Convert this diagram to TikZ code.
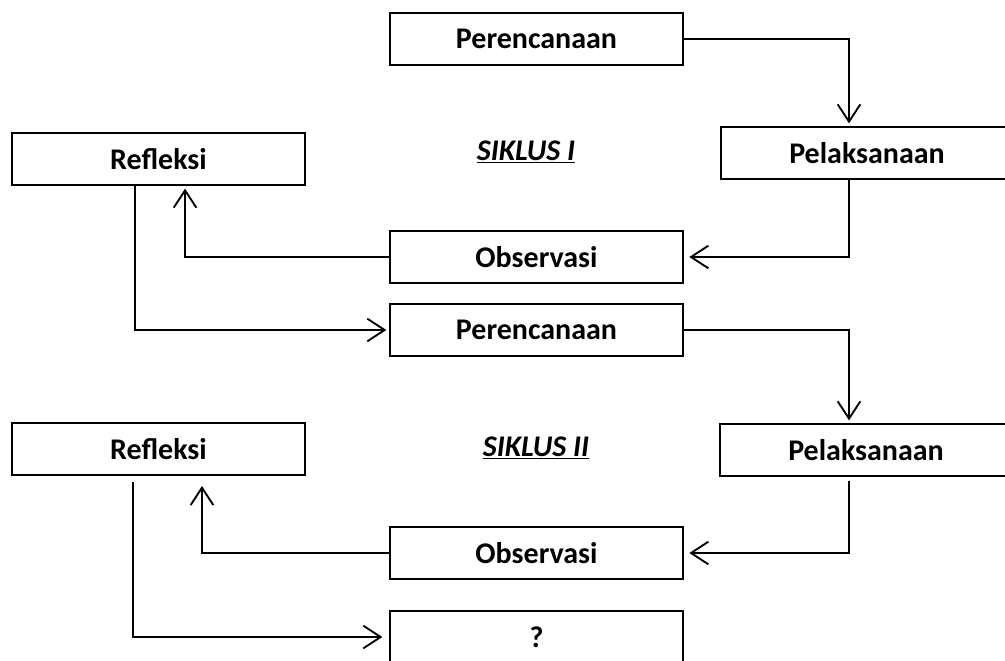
\documentclass[tikz,border=0pt]{standalone}
\usepackage{fontspec}
\setmainfont{Carlito}
\usetikzlibrary{arrows.meta}
\tikzset{
    >={Straight Barb[length=13pt,width=17pt]},
    stage/.style={rectangle,draw=black,line width=1.5pt,minimum width=219.75pt,minimum height=39pt,font=\fontsize{22.5}{27}\selectfont\bfseries},
    siklus/.style={font=\fontsize{22.5}{27}\selectfont\bfseries\itshape},
    flow/.style={->,line width=1.4pt,shorten >=2pt}
}

\begin{document}
\begin{tikzpicture}[x=0.75pt,y=-0.75pt]
  \clip (0,0) rectangle (1005,660);

  % siklus I
  \node[stage] (plan1) at (536.5, 39)  {Perencanaan};
  \node[stage] (act1)  at (867, 153)   {Pelaksanaan};
  \node[stage] (refl1) at (158.5, 159) {Refleksi};
  \node[stage] (obs1)  at (536.5, 257) {Observasi};
  \node[siklus] (sik1) at (526, 152)   {\underline{SIKLUS I}};

  % siklus II
  \node[stage] (plan2) at (536.5, 330) {Perencanaan};
  \node[stage] (act2)  at (866, 450)   {Pelaksanaan};
  \node[stage] (refl2) at (158.5, 449) {Refleksi};
  \node[stage] (obs2)  at (536.5, 553) {Observasi};
  \node[siklus] (sik2) at (536, 448)   {\underline{SIKLUS II}};
  \node[stage] (next)  at (536.5, 637) {?};

  \draw[flow] (plan1.east) -| ([xshift=-13.5pt]act1.north);
  \draw[flow,shorten >=4pt] ([xshift=-13.5pt]act1.south) |- (obs1.east);
  \draw[flow] (obs1.west) -| ([xshift=19.9pt]refl1.south);
  \draw[flow] ([xshift=-17.6pt]refl1.south) |- (plan2.west);
  \draw[flow] (plan2.east) -| ([xshift=-12.75pt]act2.north);
  \draw[flow,shorten >=4pt] ([xshift=-12.75pt,yshift=-3pt]act2.south) |- (obs2.east);
  \draw[flow,shorten >=7.5pt] (obs2.west) -| ([xshift=32.6pt]refl2.south);
  \draw[flow,shorten >=5pt] ([xshift=-19.1pt,yshift=-4.5pt]refl2.south) |- (next.west);
\end{tikzpicture}
\end{document}
